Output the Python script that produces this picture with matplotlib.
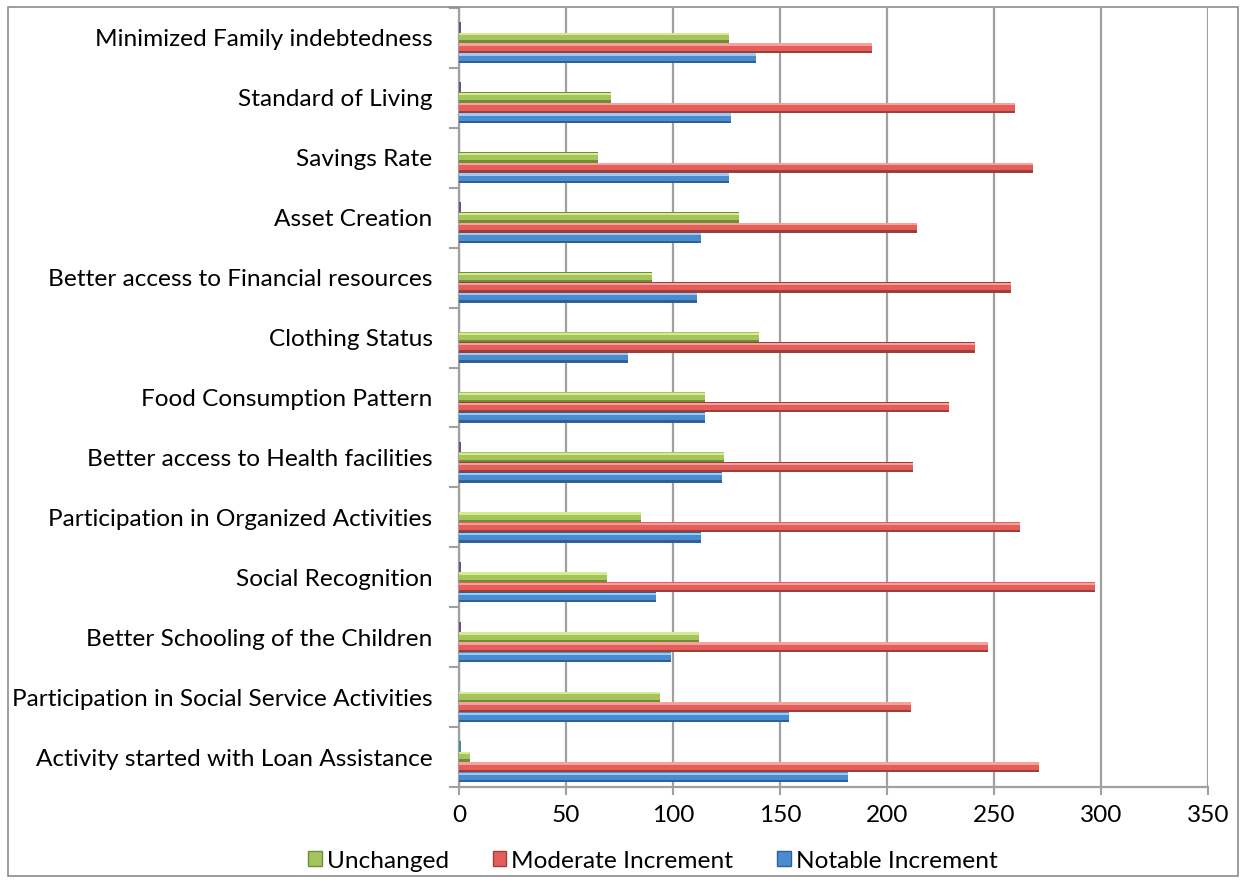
import numpy as np
import matplotlib
matplotlib.use("Agg")
import matplotlib.pyplot as plt
from matplotlib.patches import Patch, Rectangle

# categories in chart order, bottom to top
categories = [
    "Activity started with Loan Assistance",
    "Participation in Social Service Activities",
    "Better Schooling of the Children",
    "Social Recognition",
    "Participation in Organized Activities",
    "Better access to Health facilities",
    "Food Consumption Pattern",
    "Clothing Status",
    "Better access to Financial resources",
    "Asset Creation",
    "Savings Rate",
    "Standard of Living",
    "Minimized Family indebtedness",
]
notable = [182, 154, 99, 92, 113, 123, 115, 79, 111, 113, 126, 127, 139]
moderate = [271, 211, 247, 297, 262, 212, 229, 241, 258, 214, 268, 260, 193]
unchanged = [5, 94, 112, 69, 85, 124, 115, 140, 90, 131, 65, 71, 126]
other = [1, 0, 1, 1, 0, 1, 0, 0, 0, 1, 0, 1, 1]
other_colors = ["#3A8FA3"] + ["#6A4F8C"] * 12

x_ticks = [0, 50, 100, 150, 200, 250, 300, 350]

# (dark, mid, light) shades to fake the bevelled Excel look
SHADES = {
    "blue": ("#2F6196", "#4A8CD0", "#9BCBF5"),
    "red": ("#9E3D3A", "#E45E5A", "#F7A09C"),
    "green": ("#6F8D36", "#A5C45C", "#D6EC93"),
}
FS = 17.6

plt.rcParams["font.family"] = ["Lato", "DejaVu Sans"]

fig = plt.figure(figsize=(12.46, 8.8), dpi=100)
ax = fig.add_axes([459 / 1246, 1 - 787 / 880, (1208 - 459) / 1246, (787 - 8) / 880])

y = np.arange(len(categories))
w = 0.17
shift = -0.08


def bevel_bar(vals, offset, shade):
    dark, mid, light = SHADES[shade]
    pos = y + shift + offset
    ax.barh(pos, vals, height=w, color=dark, zorder=3)
    ax.barh(pos + w * 0.1, vals, height=w * 0.74, color=mid, zorder=4)
    ax.barh(pos + w * 0.34, vals, height=w * 0.22, color=light, zorder=5)


bevel_bar(notable, -1.5 * w, "blue")
bevel_bar(moderate, -0.5 * w, "red")
bevel_bar(unchanged, 0.5 * w, "green")
ax.barh(y + shift + 1.5 * w, other, height=w, color=other_colors, zorder=3)

ax.set_xlim(0, 350)
ax.set_ylim(-0.5, len(categories) - 0.5)
ax.set_xticks(x_ticks)
ax.set_xticklabels([str(t) for t in x_ticks])
ax.set_yticks(y)
ax.set_yticklabels(categories)
ax.set_yticks(np.arange(len(categories) + 1) - 0.5, minor=True)

grid_col = "#A0A0A0"
ax.grid(axis="x", color=grid_col, linewidth=1.6, zorder=0)
ax.tick_params(axis="y", which="major", length=0, pad=19, labelsize=FS)
ax.tick_params(axis="y", which="minor", length=7, color=grid_col, width=1.5)
ax.tick_params(axis="x", length=6, color=grid_col, width=1.5, pad=7, labelsize=FS)
for side in ["top", "right"]:
    ax.spines[side].set_visible(False)
for side in ["left", "bottom"]:
    ax.spines[side].set_color(grid_col)
    ax.spines[side].set_linewidth(1.6)

handles = [
    Patch(facecolor=SHADES["green"][1], edgecolor=SHADES["green"][0], label="Unchanged"),
    Patch(facecolor=SHADES["red"][1], edgecolor=SHADES["red"][0], label="Moderate Increment"),
    Patch(facecolor=SHADES["blue"][1], edgecolor=SHADES["blue"][0], label="Notable Increment"),
]
fig.legend(handles=handles, loc="center", bbox_to_anchor=(0.524, 1 - 861 / 880),
           ncol=3, frameon=False, fontsize=FS, handlelength=0.55, handleheight=0.55,
           handletextpad=0.2, columnspacing=1.8)

# chart border
fig.patches.append(Rectangle((8 / 1246, 4 / 880), 1230 / 1246, 869 / 880,
                             transform=fig.transFigure, fill=False,
                             edgecolor="#8C8C8C", linewidth=1.2))

fig.savefig("out.png", dpi=100)
